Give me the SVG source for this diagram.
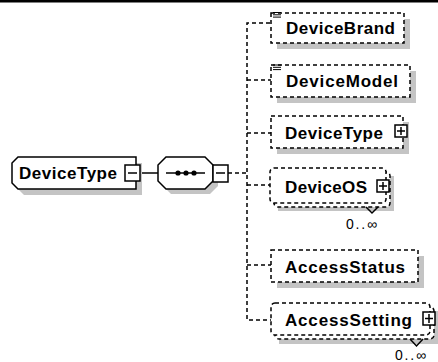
<svg xmlns="http://www.w3.org/2000/svg" width="438" height="362" viewBox="0 0 438 362">
<style>
.sh{fill:#c4c4c4}
.box{fill:#fff;stroke:#000;stroke-width:1.5;stroke-dasharray:4 3}
.solid{fill:#fff;stroke:#000;stroke-width:1.5}
.ln{fill:none;stroke:#000;stroke-width:1.5}
.con{fill:none;stroke:#000;stroke-width:1.5;stroke-dasharray:4 3}
.lbl{font-family:"Liberation Sans",Arial,sans-serif;font-weight:bold;font-size:17px;fill:#000}
.occ{font-family:"Liberation Sans",Arial,sans-serif;font-size:14px;fill:#000}
.ico{fill:none;stroke:#000;stroke-width:1}
</style>
<rect x="0" y="0" width="438" height="2.5" fill="#000"/>
<g id="connectors">
<line class="ln" x1="140" y1="173" x2="158" y2="173"/>
<line class="con" x1="228" y1="173" x2="247" y2="173"/>
<path class="con" d="M270 23 H247 V320 H271"/>
<path class="con" d="M247 80 H271 M247 133 H271 M247 185 H270 M247 265 H271"/>
</g>
<g id="root-DeviceType">
<path class="sh" d="M24 163 H142 V195 H24 L18 189 V169 Z"/>
<path class="solid" d="M18 157 H136 V189 H18 L12 183 V163 Z"/>
<text class="lbl" x="19" y="179" textLength="98" lengthAdjust="spacing">DeviceType</text>
<rect class="solid" x="125" y="165" width="15" height="16"/>
<line class="ln" x1="128" y1="173" x2="137" y2="173"/>
</g>
<g id="sequence">
<polygon class="sh" points="171,162 210,162 218,170 218,186 210,194 171,194 163,186 163,170"/>
<polygon class="solid" points="166,157 205,157 213,165 213,181 205,189 166,189 158,181 158,165"/>
<line class="ln" x1="166" y1="173" x2="205" y2="173"/>
<circle cx="178" cy="173" r="2.6"/>
<circle cx="186" cy="173" r="2.6"/>
<circle cx="194" cy="173" r="2.6"/>
<rect class="solid" x="213" y="165" width="15" height="17"/>
<line class="ln" x1="216" y1="173" x2="225" y2="173"/>
</g>
<g id="DeviceBrand">
<rect class="sh" x="277" y="19" width="133" height="30"/>
<rect class="box" x="271" y="13" width="133" height="30"/>
<path class="ico" d="M273 12.5 H281 M273 14.8 H281 M273 17.1 H281"/>
<text class="lbl" x="286" y="34" textLength="109" lengthAdjust="spacing">DeviceBrand</text>
</g>
<g id="DeviceModel">
<rect class="sh" x="277" y="71" width="139" height="32"/>
<rect class="box" x="271" y="65" width="139" height="32"/>
<path class="ico" d="M273 65 H281 M273 67.3 H281 M273 69.6 H281"/>
<text class="lbl" x="286" y="87" textLength="112" lengthAdjust="spacing">DeviceModel</text>
</g>
<g id="DeviceType">
<rect class="sh" x="277" y="122" width="132" height="32"/>
<rect class="box" x="271" y="116" width="132" height="32"/>
<text class="lbl" x="285" y="139" textLength="98" lengthAdjust="spacing">DeviceType</text>
<rect class="solid" x="395" y="125" width="12" height="12"/>
<path class="ln" d="M397 131 H405 M401 127 V135"/>
</g>
<g id="DeviceOS">
<rect class="sh" x="278" y="176" width="116" height="35"/>
<rect class="box" x="274" y="172" width="116" height="35" rx="4"/>
<rect class="box" x="270" y="168" width="116" height="35" rx="4"/>
<text class="lbl" x="285" y="193" textLength="82" lengthAdjust="spacing">DeviceOS</text>
<rect class="solid" x="377" y="180" width="12" height="12"/>
<path class="ln" d="M379 186 H387 M383 182 V190"/>
<polyline class="ln" points="366,207 372,213 378,207"/>
<text class="occ" x="346" y="229" textLength="31" lengthAdjust="spacing">0..∞</text>
</g>
<g id="AccessStatus">
<rect class="sh" x="277" y="256" width="147" height="32"/>
<rect class="box" x="271" y="250" width="147" height="32"/>
<text class="lbl" x="285" y="273" textLength="120" lengthAdjust="spacing">AccessStatus</text>
</g>
<g id="AccessSetting">
<rect class="sh" x="279" y="311" width="159" height="33"/>
<rect class="box" x="275" y="307" width="159" height="32" rx="4"/>
<rect class="box" x="271" y="303" width="159" height="32" rx="4"/>
<text class="lbl" x="285" y="326" textLength="127" lengthAdjust="spacing">AccessSetting</text>
<rect class="solid" x="423" y="312" width="12" height="13"/>
<path class="ln" d="M425 318.5 H433 M429 314 V323"/>
<polyline class="ln" points="410,339 416.5,346 423,339"/>
<text class="occ" x="395" y="360" textLength="31" lengthAdjust="spacing">0..∞</text>
</g>
</svg>
